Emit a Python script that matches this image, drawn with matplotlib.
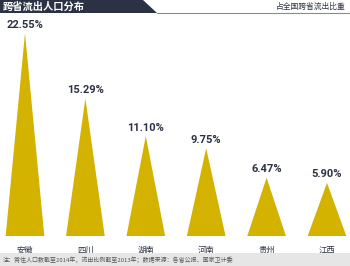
import matplotlib
matplotlib.use("Agg")
import matplotlib.pyplot as plt
from matplotlib.patches import Polygon, Rectangle
from matplotlib.lines import Line2D

plt.rcParams['font.family'] = ['Noto Sans CJK SC', 'DejaVu Sans']

categories = ['安徽', '四川', '湖南', '河南', '贵州', '江西']
values = [22.55, 15.29, 11.10, 9.75, 6.47, 5.90]
value_labels = ['22.55%', '15.29%', '11.10%', '9.75%', '6.47%', '5.90%']
title = '跨省流出人口分布'
subtitle = '占全国跨省流出比重'
footnote = '注：常住人口数截至2014年，流出比例截至2013年；数据来源：各省公报、国家卫计委'

W, H = 350, 266
fig = plt.figure(figsize=(W / 100, H / 100), dpi=100)
fig.patch.set_facecolor('white')

YELLOW = '#d4b200'
DARK = '#2b3243'

ax = fig.add_axes([0, 30 / H, 1, 225 / H])
spacing = 60.4
x0 = -25 / spacing
ax.set_xlim(x0, x0 + W / spacing)
ax.set_ylim(0, 25)
ax.axis('off')

half = 0.32
for i, (v, lab) in enumerate(zip(values, value_labels)):
    ax.fill([i - half, i, i + half], [0, v, 0], color=YELLOW, lw=0)
    ax.annotate(lab, (i, v), xytext=(0, 2.5), textcoords='offset points',
                ha='center', va='bottom', fontsize=8.0,
                fontweight='bold', color=DARK,
                family=['Roboto', 'DejaVu Sans'], annotation_clip=False)
    ax.text(i, -1.6, categories[i], ha='center', va='center', fontsize=6,
            color=DARK, clip_on=False)

def px(x, y):
    return (x / W, 1 - y / H)

fig.patches.append(Polygon([px(0, 0), px(143, 0), px(157, 13), px(0, 13)],
                           closed=True, transform=fig.transFigure,
                           facecolor='#2b3243', edgecolor='none'))
fig.lines.append(Line2D([157 / W, 1], [1 - 13 / H, 1 - 13 / H],
                        transform=fig.transFigure, color='#8c8c8c', lw=0.8))
fig.text(3 / W, 1 - 6.5 / H, title, color='white', fontsize=7.4,
         fontweight='bold', va='center', ha='left')
fig.text(346 / W, 1 - 7 / H, subtitle, color=DARK, fontsize=5.6,
         va='center', ha='right')

fig.patches.append(Rectangle(px(0, 266), 1, 13 / H, transform=fig.transFigure,
                             facecolor='#e6e6e6', edgecolor='none'))
fig.text(3 / W, 1 - 259.5 / H, footnote, color='#555555', fontsize=4.3,
         va='center', ha='left')

fig.savefig('out.png', dpi=100)
